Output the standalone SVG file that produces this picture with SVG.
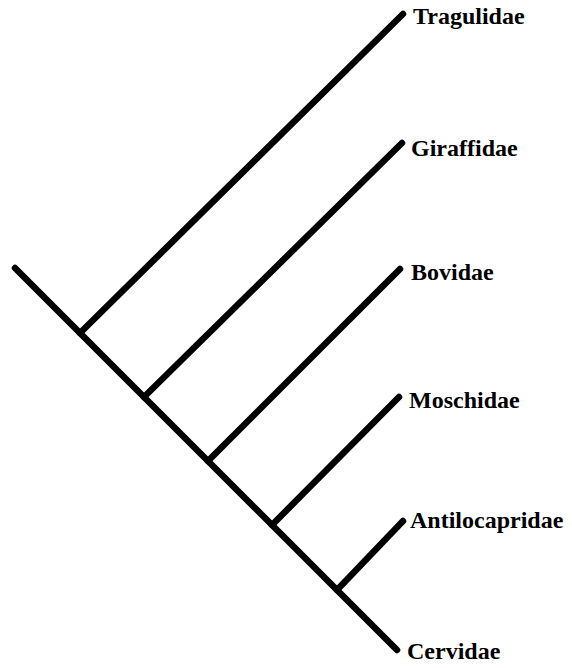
<svg xmlns="http://www.w3.org/2000/svg" width="572" height="668" viewBox="0 0 572 668">
<style>
.br{stroke:#000;stroke-width:6.5;stroke-linecap:round;fill:none}
.lb{font-family:"Liberation Serif","Times New Roman",serif;font-weight:bold;font-size:24px;fill:#000}
</style>
<rect width="572" height="668" fill="#fff"/>
<g id="connectors">
<line class="br" x1="15" y1="268" x2="397" y2="650"/>
<line class="br" x1="80" y1="333" x2="403" y2="14"/>
<line class="br" x1="144" y1="397" x2="402" y2="143"/>
<line class="br" x1="208" y1="461" x2="400" y2="269"/>
<line class="br" x1="272" y1="525" x2="399" y2="397"/>
<line class="br" x1="337" y1="590" x2="403" y2="521"/>
</g>
<g id="tragulidae"><text class="lb" x="413" y="24">Tragulidae</text></g>
<g id="giraffidae"><text class="lb" x="411" y="156">Giraffidae</text></g>
<g id="bovidae"><text class="lb" x="411" y="280">Bovidae</text></g>
<g id="moschidae"><text class="lb" x="409" y="408">Moschidae</text></g>
<g id="antilocapridae"><text class="lb" x="410" y="528">Antilocapridae</text></g>
<g id="cervidae"><text class="lb" x="407" y="659">Cervidae</text></g>
</svg>
